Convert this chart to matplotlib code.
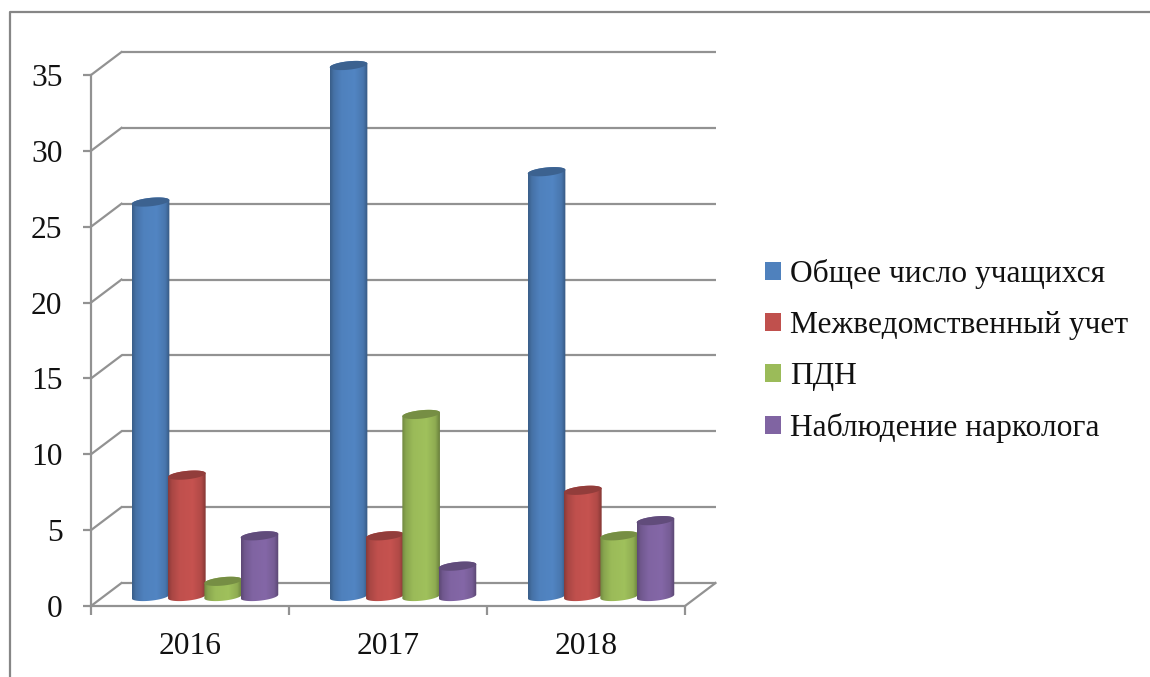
import numpy as np
import matplotlib
matplotlib.use("Agg")
import matplotlib.pyplot as plt
from matplotlib.colors import LinearSegmentedColormap, to_rgb
from matplotlib.lines import Line2D
from matplotlib.patches import PathPatch, Patch
from matplotlib.path import Path
from matplotlib.transforms import Affine2D

years = ["2016", "2017", "2018"]
series_names = ["Общее число учащихся", "Межведомственный учет", "ПДН", "Наблюдение нарколога"]
total_students = [26, 35, 28]
interagency = [8, 4, 7]
pdn = [1, 12, 4]
narcologist = [4, 2, 5]
colors = ["#4f81bd", "#c0504d", "#9bbb59", "#8064a2"]
y_ticks = [0, 5, 10, 15, 20, 25, 30, 35]

W, H = 1150, 677
DPI = 100
plt.rcParams["font.family"] = ["Liberation Serif", "DejaVu Serif"]
fig = plt.figure(figsize=(W / DPI, H / DPI), dpi=DPI, facecolor="white")

L, R, T, B = 91, 685, 75, 606
ax = fig.add_axes([L / W, 1 - B / H, (R - L) / W, (B - T) / H])
ax.set_facecolor("none")
GRID = "#929292"
LW = 1.6

sx = 3 / (R - L)
sy = 35 / (B - T)

# Back wall and floor
back = ax.transData + Affine2D().translate(30.5, 23)
for y in y_ticks:
    ax.plot([0, 3], [y, y], color=GRID, lw=LW, transform=back, clip_on=False, zorder=1,
            solid_capstyle="butt")
    ax.plot([0, 30.5 * sx], [y, y + 23 * sy], color=GRID, lw=LW, clip_on=False, zorder=1)
ax.plot([3, 3 + 30.5 * sx], [0, 23 * sy], color=GRID, lw=LW, clip_on=False, zorder=1)

# Cylinders
plane = ax.transData + Affine2D().translate(15, 9.5)
half_w = 18.8 * sx
e_b = 4.2 * sy
tilt = 0.1
spacing = 36.3 * sx
shade_pos = [0, 0.1, 0.3, 0.65, 0.88, 1]
shade_val = [0.72, 0.88, 1.0, 1.03, 0.92, 0.68]


def ellipse(cx, y, t):
    return (cx + half_w * np.cos(t),
            y + e_b * np.sin(t) + tilt * 18.8 * sy * np.cos(t))


def draw_cyl(cx, v, color, z):
    base = np.array(to_rgb(color))
    cmap = LinearSegmentedColormap.from_list(
        "s", [(p, tuple(np.clip(base * m, 0, 1))) for p, m in zip(shade_pos, shade_val)])
    t_low = np.linspace(np.pi, 2 * np.pi, 40)
    t_up = np.linspace(0, np.pi, 40)
    xb, yb = ellipse(cx, 0, t_low)
    xt, yt = ellipse(cx, v, t_up)
    verts = np.column_stack([np.r_[xb, xt], np.r_[yb, yt]])
    verts = np.vstack([verts, verts[0]])
    path = Path(verts, closed=True)
    patch = PathPatch(path, transform=plane, facecolor="none", edgecolor="none", zorder=z,
                      clip_on=False)
    ax.add_patch(patch)
    img = ax.imshow(np.linspace(0, 1, 128)[None, :], cmap=cmap, aspect="auto",
                    extent=[cx - half_w, cx + half_w, -2, v + 2], transform=plane,
                    zorder=z, interpolation="bilinear", origin="lower")
    img.set_clip_box(fig.bbox)
    img.set_clip_path(patch)
    tt = np.linspace(0, 2 * np.pi, 80)
    xe, ye = ellipse(cx, v, tt)
    ax.fill(xe, ye, color=tuple(base * 0.76), transform=plane, zorder=z + 0.1, lw=0,
            clip_on=False)


rows = [total_students, interagency, pdn, narcologist]
for c in range(len(years)):
    for s, row in enumerate(rows):
        draw_cyl(c + 0.5 + (s - 1.5) * spacing, row[c], colors[s], 3 + s * 0.2)

# Axes
ax.set_xlim(0, 3)
ax.set_ylim(0, 35)
for side in ("top", "right"):
    ax.spines[side].set_visible(False)
for side in ("left", "bottom"):
    ax.spines[side].set_color(GRID)
    ax.spines[side].set_linewidth(LW)
ax.set_yticks(y_ticks)
ax.set_xticks([0, 1, 2, 3])
ax.set_xticklabels([])
ax.set_xticks([0.5, 1.5, 2.5], labels=years, minor=True)
FS = 22.7
ax.tick_params(axis="y", which="major", length=6, width=LW, color=GRID, labelsize=FS,
               pad=14.5, labelcolor="#111111")
ax.tick_params(axis="x", which="major", length=6.5, width=LW, color=GRID)
ax.tick_params(axis="x", which="minor", length=0, labelsize=FS, pad=19, labelcolor="#111111")

# Legend
handles = [Patch(facecolor=col, edgecolor="none", label=n) for col, n in zip(colors, series_names)]
leg = fig.legend(handles=handles, loc="center left",
                 bbox_to_anchor=(756 / W, 1 - 351 / H), frameon=False, fontsize=FS,
                 handlelength=0.5, handleheight=0.5, handletextpad=0.27,
                 labelspacing=0.695, borderpad=0.3, borderaxespad=0, labelcolor="#111111")

# Outer chart frame
fig.add_artist(Line2D([9.5 / W, 9.5 / W, 1], [0, 1 - 11.5 / H, 1 - 11.5 / H],
                      color="#868686", lw=1.6, transform=fig.transFigure))

fig.savefig("out.png", dpi=DPI, facecolor="white")
